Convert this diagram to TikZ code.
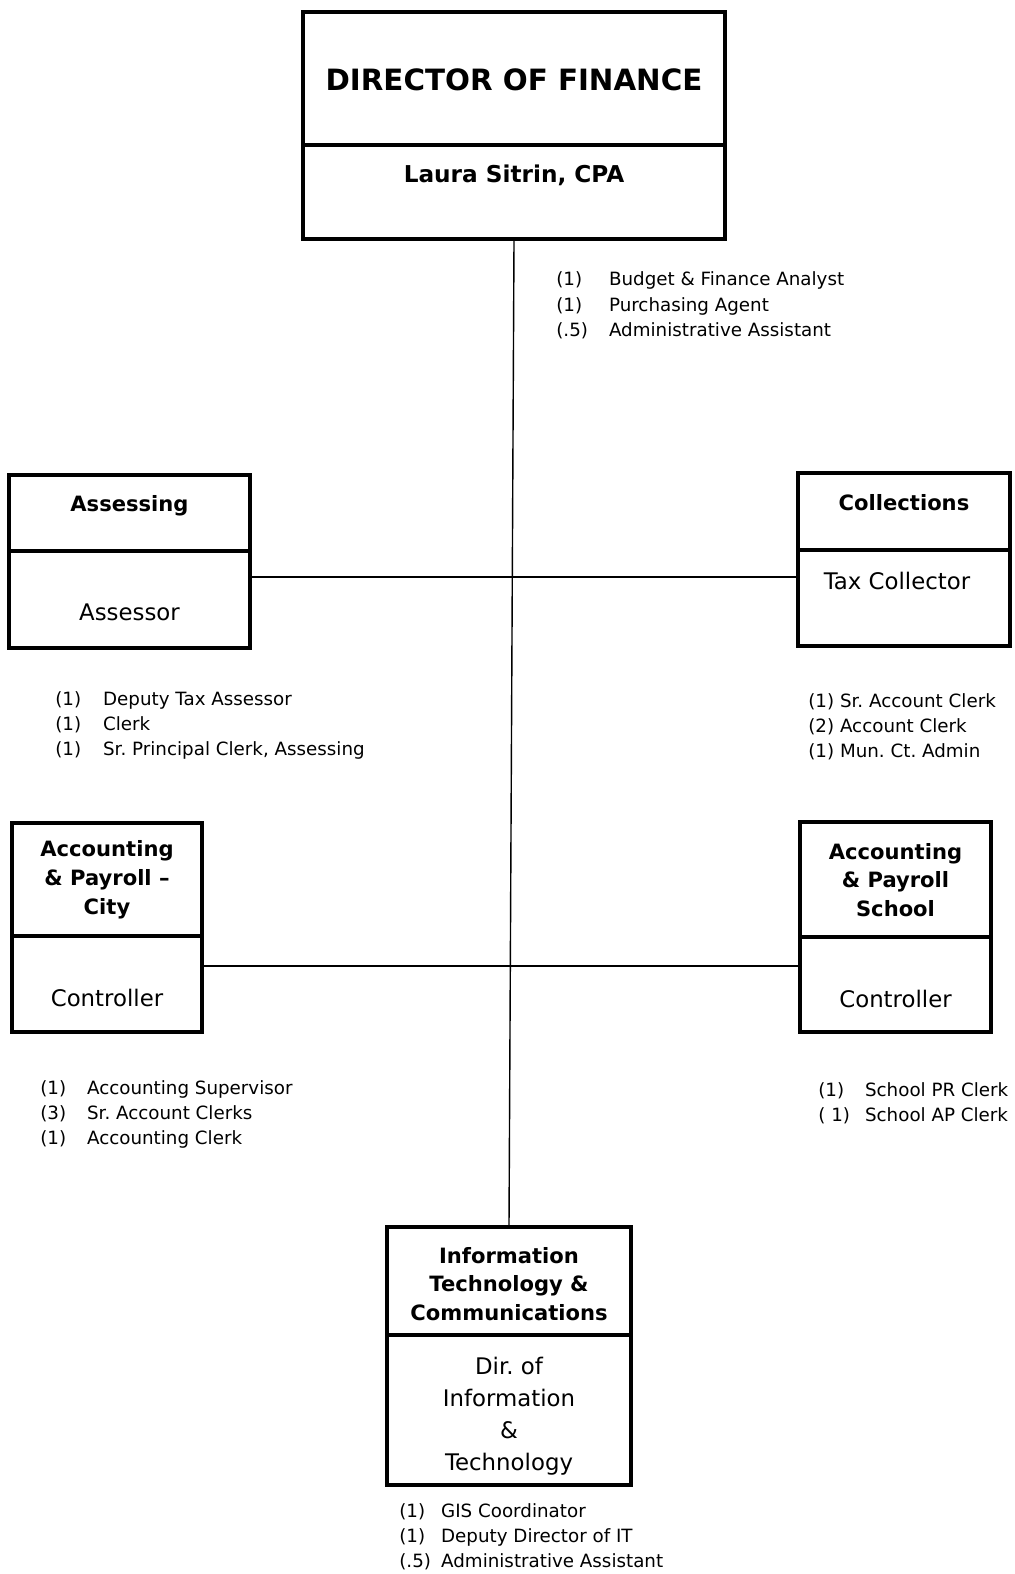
\documentclass[tikz,border=0pt]{standalone}
\usepackage{fontspec}
\setmainfont{DejaVu Sans}
\usepackage{array}
\frenchspacing

\tikzset{
  part/.style={draw,line width=2pt,inner sep=0pt},
  head/.style={font=\bfseries\fontsize{12}{16.4}\selectfont,align=center,inner sep=0pt},
  role/.style={font=\fontsize{13}{18.1}\selectfont,align=center,inner sep=0pt},
  staff/.style={anchor=base west,inner sep=0pt,font=\fontsize{10.4}{14.3}\selectfont},
  link/.style={line width=0.8pt}
}
\newcommand{\stafflist}[2]{\begin{tabular}[t]{@{}p{#1}@{}l@{}}#2\end{tabular}}

\begin{document}
\begin{tikzpicture}[x={(0.02cm,0cm)},y={(0cm,-0.02cm)}]
\useasboundingbox (0,0) rectangle (1014,1574);
% Two-part boxes: title part on top, post part below.
\foreach \n/\x/\ya/\yb/\ha/\hb/\w in {dir/514/78.5/192/2.66/1.88/8.44,
  assess/129.5/513/599.5/1.52/1.94/4.82,coll/904/511.5/598/1.54/1.92/4.24,
  city/107/879.5/984/2.26/1.92/3.8,school/895.5/879.5/984.5/2.3/1.9/3.82,
  it/509/1281/1410/2.16/3.0/4.88}{
\node[part,minimum width=\w cm,minimum height=\ha cm] (\n-top) at (\x,\ya) {};
\node[part,minimum width=\w cm,minimum height=\hb cm] (\n-box) at (\x,\yb) {};}
% Reporting lines.
\coordinate (row1) at (515,577);
\coordinate (row2) at (515,966);
\draw[link] (dir-box.south) -- (it-top.north);
\draw[link] (assess-box.east |- row1) -- (coll-box.west |- row1);
\draw[link] (city-box.east |- row2) -- (school-box.west |- row2);
% Titles and posts.
\node[head,font=\bfseries\fontsize{16.7}{20}\selectfont] (dir-title) at (514,80) {DIRECTOR OF FINANCE};
\node[head,font=\bfseries\fontsize{13.2}{16}\selectfont] (dir-name) at (514,175) {Laura Sitrin, CPA};
\node[head] (assess-title) at (129.5,506) {Assessing};
\node[role] (assess-post) at (129.5,612) {Assessor};
\node[head] (coll-title) at (904,503) {Collections};
\node[role] (coll-post) at (897,581) {Tax Collector};
\node[head] (city-title) at (107,880) {Accounting\\\& Payroll --\\City};
\node[role] (city-post) at (107,998) {Controller};
\node[head] (school-title) at (895.5,880) {Accounting\\\& Payroll\\School};
\node[role] (school-post) at (895.5,999) {Controller};
\node[head] (it-title) at (509,1284) {Information\\Technology \&\\Communications};
\node[role] (it-post) at (509,1416) {Dir. of\\Information\\\&\\Technology};
% Staff under each office.
\node[staff] (dir-staff) at (556,286) {\stafflist{30pt}{(1)&Budget \& Finance Analyst\\(1)&Purchasing Agent\\(.5)&Administrative Assistant}};
\node[staff] (assess-staff) at (55,705) {\stafflist{27.2pt}{(1)&Deputy Tax Assessor\\(1)&Clerk\\(1)&Sr. Principal Clerk, Assessing}};
\node[staff] (coll-staff) at (808,707) {\begin{tabular}[t]{@{}l@{}}(1) Sr. Account Clerk\\(2) Account Clerk\\(1) Mun. Ct. Admin\end{tabular}};
\node[staff] (city-staff) at (40,1094) {\stafflist{26.6pt}{(1)&Accounting Supervisor\\(3)&Sr. Account Clerks\\(1)&Accounting Clerk}};
\node[staff] (school-staff) at (818,1096) {\stafflist{26.6pt}{(1)&School PR Clerk\\( 1)&School AP Clerk}};
\node[staff] (it-staff) at (399,1517) {\stafflist{23.8pt}{(1)&GIS Coordinator\\(1)&Deputy Director of IT\\(.5)&Administrative Assistant}};
\end{tikzpicture}
\end{document}
